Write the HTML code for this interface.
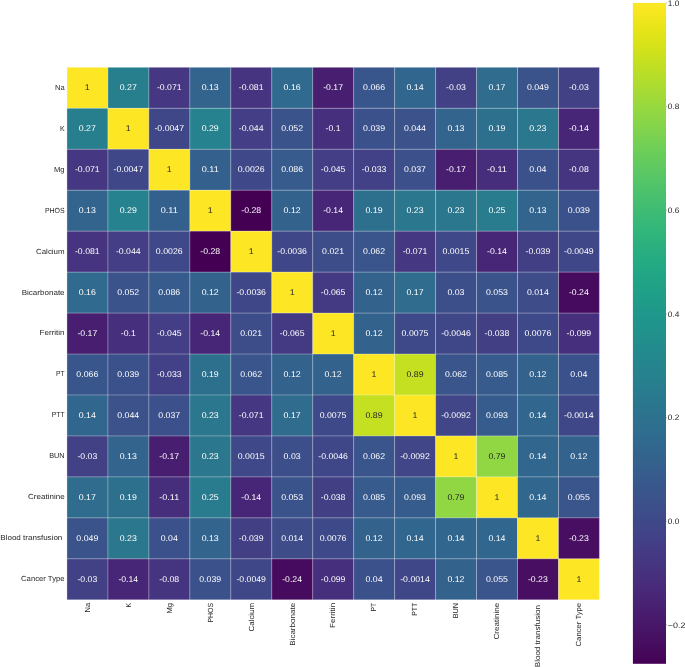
<!DOCTYPE html><html><head><meta charset="utf-8"><style>html,body{margin:0;padding:0;background:#fff;overflow:hidden;}svg{display:block;}text{font-family:"Liberation Sans",sans-serif;text-rendering:geometricPrecision;}</style></head><body>
<svg width="685" height="667" viewBox="0 0 685 667">
<defs><linearGradient id="cb" x1="0" y1="0" x2="0" y2="1"><stop offset="0.0000" stop-color="#fde725"/><stop offset="0.0156" stop-color="#f6e620"/><stop offset="0.0312" stop-color="#ece51b"/><stop offset="0.0469" stop-color="#e2e418"/><stop offset="0.0625" stop-color="#d8e219"/><stop offset="0.0781" stop-color="#cde11d"/><stop offset="0.0938" stop-color="#c2df23"/><stop offset="0.1094" stop-color="#b8de29"/><stop offset="0.1250" stop-color="#addc30"/><stop offset="0.1406" stop-color="#a2da37"/><stop offset="0.1562" stop-color="#98d83e"/><stop offset="0.1719" stop-color="#8ed645"/><stop offset="0.1875" stop-color="#84d44b"/><stop offset="0.2031" stop-color="#7ad151"/><stop offset="0.2188" stop-color="#70cf57"/><stop offset="0.2344" stop-color="#67cc5c"/><stop offset="0.2500" stop-color="#5ec962"/><stop offset="0.2656" stop-color="#56c667"/><stop offset="0.2812" stop-color="#4ec36b"/><stop offset="0.2969" stop-color="#46c06f"/><stop offset="0.3125" stop-color="#3fbc73"/><stop offset="0.3281" stop-color="#38b977"/><stop offset="0.3438" stop-color="#32b67a"/><stop offset="0.3594" stop-color="#2db27d"/><stop offset="0.3750" stop-color="#28ae80"/><stop offset="0.3906" stop-color="#25ab82"/><stop offset="0.4062" stop-color="#22a785"/><stop offset="0.4219" stop-color="#20a386"/><stop offset="0.4375" stop-color="#1fa088"/><stop offset="0.4531" stop-color="#1e9c89"/><stop offset="0.4688" stop-color="#1f988b"/><stop offset="0.4844" stop-color="#1f948c"/><stop offset="0.5000" stop-color="#21918c"/><stop offset="0.5156" stop-color="#228d8d"/><stop offset="0.5312" stop-color="#23898e"/><stop offset="0.5469" stop-color="#25858e"/><stop offset="0.5625" stop-color="#26828e"/><stop offset="0.5781" stop-color="#277e8e"/><stop offset="0.5938" stop-color="#297a8e"/><stop offset="0.6094" stop-color="#2a768e"/><stop offset="0.6250" stop-color="#2c728e"/><stop offset="0.6406" stop-color="#2e6f8e"/><stop offset="0.6562" stop-color="#2f6b8e"/><stop offset="0.6719" stop-color="#31678e"/><stop offset="0.6875" stop-color="#33638d"/><stop offset="0.7031" stop-color="#355f8d"/><stop offset="0.7188" stop-color="#375b8d"/><stop offset="0.7344" stop-color="#39568c"/><stop offset="0.7500" stop-color="#3b528b"/><stop offset="0.7656" stop-color="#3d4e8a"/><stop offset="0.7812" stop-color="#3e4989"/><stop offset="0.7969" stop-color="#404588"/><stop offset="0.8125" stop-color="#424086"/><stop offset="0.8281" stop-color="#443b84"/><stop offset="0.8438" stop-color="#453781"/><stop offset="0.8594" stop-color="#46327e"/><stop offset="0.8750" stop-color="#472d7b"/><stop offset="0.8906" stop-color="#482878"/><stop offset="0.9062" stop-color="#482374"/><stop offset="0.9219" stop-color="#481d6f"/><stop offset="0.9375" stop-color="#48186a"/><stop offset="0.9531" stop-color="#471365"/><stop offset="0.9688" stop-color="#470d60"/><stop offset="0.9844" stop-color="#46075a"/><stop offset="1.0000" stop-color="#440154"/></linearGradient>
<filter id="soft" x="-5%" y="-5%" width="110%" height="110%" color-interpolation-filters="sRGB"><feGaussianBlur stdDeviation="0.3"/></filter></defs>
<rect width="685" height="667" fill="#fff"/>
<rect x="66.95" y="67.30" width="40.96" height="40.96" fill="#fde725"/>
<rect x="107.91" y="67.30" width="40.96" height="40.96" fill="#277f8e"/>
<rect x="148.87" y="67.30" width="40.96" height="40.96" fill="#453781"/>
<rect x="189.83" y="67.30" width="40.96" height="40.96" fill="#32648e"/>
<rect x="230.79" y="67.30" width="40.96" height="40.96" fill="#463480"/>
<rect x="271.75" y="67.30" width="40.96" height="40.96" fill="#306a8e"/>
<rect x="312.71" y="67.30" width="40.96" height="40.96" fill="#481f70"/>
<rect x="353.67" y="67.30" width="40.96" height="40.96" fill="#39568c"/>
<rect x="394.63" y="67.30" width="40.96" height="40.96" fill="#31668e"/>
<rect x="435.59" y="67.30" width="40.96" height="40.96" fill="#424186"/>
<rect x="476.55" y="67.30" width="40.96" height="40.96" fill="#2f6c8e"/>
<rect x="517.51" y="67.30" width="40.96" height="40.96" fill="#3a538b"/>
<rect x="558.47" y="67.30" width="40.96" height="40.96" fill="#424186"/>
<rect x="66.95" y="108.26" width="40.96" height="40.96" fill="#277f8e"/>
<rect x="107.91" y="108.26" width="40.96" height="40.96" fill="#fde725"/>
<rect x="148.87" y="108.26" width="40.96" height="40.96" fill="#3f4788"/>
<rect x="189.83" y="108.26" width="40.96" height="40.96" fill="#26828e"/>
<rect x="230.79" y="108.26" width="40.96" height="40.96" fill="#433e85"/>
<rect x="271.75" y="108.26" width="40.96" height="40.96" fill="#3a538b"/>
<rect x="312.71" y="108.26" width="40.96" height="40.96" fill="#46307e"/>
<rect x="353.67" y="108.26" width="40.96" height="40.96" fill="#3b518b"/>
<rect x="394.63" y="108.26" width="40.96" height="40.96" fill="#3b528b"/>
<rect x="435.59" y="108.26" width="40.96" height="40.96" fill="#32648e"/>
<rect x="476.55" y="108.26" width="40.96" height="40.96" fill="#2d708e"/>
<rect x="517.51" y="108.26" width="40.96" height="40.96" fill="#2a778e"/>
<rect x="558.47" y="108.26" width="40.96" height="40.96" fill="#482677"/>
<rect x="66.95" y="149.22" width="40.96" height="40.96" fill="#453781"/>
<rect x="107.91" y="149.22" width="40.96" height="40.96" fill="#3f4788"/>
<rect x="148.87" y="149.22" width="40.96" height="40.96" fill="#fde725"/>
<rect x="189.83" y="149.22" width="40.96" height="40.96" fill="#34608d"/>
<rect x="230.79" y="149.22" width="40.96" height="40.96" fill="#3f4889"/>
<rect x="271.75" y="149.22" width="40.96" height="40.96" fill="#375b8d"/>
<rect x="312.71" y="149.22" width="40.96" height="40.96" fill="#433e85"/>
<rect x="353.67" y="149.22" width="40.96" height="40.96" fill="#424086"/>
<rect x="394.63" y="149.22" width="40.96" height="40.96" fill="#3c508b"/>
<rect x="435.59" y="149.22" width="40.96" height="40.96" fill="#481f70"/>
<rect x="476.55" y="149.22" width="40.96" height="40.96" fill="#472e7c"/>
<rect x="517.51" y="149.22" width="40.96" height="40.96" fill="#3b518b"/>
<rect x="558.47" y="149.22" width="40.96" height="40.96" fill="#453581"/>
<rect x="66.95" y="190.18" width="40.96" height="40.96" fill="#32648e"/>
<rect x="107.91" y="190.18" width="40.96" height="40.96" fill="#26828e"/>
<rect x="148.87" y="190.18" width="40.96" height="40.96" fill="#34608d"/>
<rect x="189.83" y="190.18" width="40.96" height="40.96" fill="#fde725"/>
<rect x="230.79" y="190.18" width="40.96" height="40.96" fill="#440154"/>
<rect x="271.75" y="190.18" width="40.96" height="40.96" fill="#33628d"/>
<rect x="312.71" y="190.18" width="40.96" height="40.96" fill="#482677"/>
<rect x="353.67" y="190.18" width="40.96" height="40.96" fill="#2d708e"/>
<rect x="394.63" y="190.18" width="40.96" height="40.96" fill="#2a778e"/>
<rect x="435.59" y="190.18" width="40.96" height="40.96" fill="#2a778e"/>
<rect x="476.55" y="190.18" width="40.96" height="40.96" fill="#297b8e"/>
<rect x="517.51" y="190.18" width="40.96" height="40.96" fill="#32648e"/>
<rect x="558.47" y="190.18" width="40.96" height="40.96" fill="#3b518b"/>
<rect x="66.95" y="231.14" width="40.96" height="40.96" fill="#463480"/>
<rect x="107.91" y="231.14" width="40.96" height="40.96" fill="#433e85"/>
<rect x="148.87" y="231.14" width="40.96" height="40.96" fill="#3f4889"/>
<rect x="189.83" y="231.14" width="40.96" height="40.96" fill="#440154"/>
<rect x="230.79" y="231.14" width="40.96" height="40.96" fill="#fde725"/>
<rect x="271.75" y="231.14" width="40.96" height="40.96" fill="#3f4788"/>
<rect x="312.71" y="231.14" width="40.96" height="40.96" fill="#3d4d8a"/>
<rect x="353.67" y="231.14" width="40.96" height="40.96" fill="#39558c"/>
<rect x="394.63" y="231.14" width="40.96" height="40.96" fill="#453781"/>
<rect x="435.59" y="231.14" width="40.96" height="40.96" fill="#3f4889"/>
<rect x="476.55" y="231.14" width="40.96" height="40.96" fill="#482677"/>
<rect x="517.51" y="231.14" width="40.96" height="40.96" fill="#423f85"/>
<rect x="558.47" y="231.14" width="40.96" height="40.96" fill="#3f4788"/>
<rect x="66.95" y="272.10" width="40.96" height="40.96" fill="#306a8e"/>
<rect x="107.91" y="272.10" width="40.96" height="40.96" fill="#3a538b"/>
<rect x="148.87" y="272.10" width="40.96" height="40.96" fill="#375b8d"/>
<rect x="189.83" y="272.10" width="40.96" height="40.96" fill="#33628d"/>
<rect x="230.79" y="272.10" width="40.96" height="40.96" fill="#3f4788"/>
<rect x="271.75" y="272.10" width="40.96" height="40.96" fill="#fde725"/>
<rect x="312.71" y="272.10" width="40.96" height="40.96" fill="#443983"/>
<rect x="353.67" y="272.10" width="40.96" height="40.96" fill="#33628d"/>
<rect x="394.63" y="272.10" width="40.96" height="40.96" fill="#2f6c8e"/>
<rect x="435.59" y="272.10" width="40.96" height="40.96" fill="#3c4f8a"/>
<rect x="476.55" y="272.10" width="40.96" height="40.96" fill="#3a538b"/>
<rect x="517.51" y="272.10" width="40.96" height="40.96" fill="#3e4c8a"/>
<rect x="558.47" y="272.10" width="40.96" height="40.96" fill="#460b5e"/>
<rect x="66.95" y="313.06" width="40.96" height="40.96" fill="#481f70"/>
<rect x="107.91" y="313.06" width="40.96" height="40.96" fill="#46307e"/>
<rect x="148.87" y="313.06" width="40.96" height="40.96" fill="#433e85"/>
<rect x="189.83" y="313.06" width="40.96" height="40.96" fill="#482677"/>
<rect x="230.79" y="313.06" width="40.96" height="40.96" fill="#3d4d8a"/>
<rect x="271.75" y="313.06" width="40.96" height="40.96" fill="#443983"/>
<rect x="312.71" y="313.06" width="40.96" height="40.96" fill="#fde725"/>
<rect x="353.67" y="313.06" width="40.96" height="40.96" fill="#33628d"/>
<rect x="394.63" y="313.06" width="40.96" height="40.96" fill="#3e4989"/>
<rect x="435.59" y="313.06" width="40.96" height="40.96" fill="#3f4788"/>
<rect x="476.55" y="313.06" width="40.96" height="40.96" fill="#423f85"/>
<rect x="517.51" y="313.06" width="40.96" height="40.96" fill="#3e4989"/>
<rect x="558.47" y="313.06" width="40.96" height="40.96" fill="#46307e"/>
<rect x="66.95" y="354.02" width="40.96" height="40.96" fill="#39568c"/>
<rect x="107.91" y="354.02" width="40.96" height="40.96" fill="#3b518b"/>
<rect x="148.87" y="354.02" width="40.96" height="40.96" fill="#424086"/>
<rect x="189.83" y="354.02" width="40.96" height="40.96" fill="#2d708e"/>
<rect x="230.79" y="354.02" width="40.96" height="40.96" fill="#39558c"/>
<rect x="271.75" y="354.02" width="40.96" height="40.96" fill="#33628d"/>
<rect x="312.71" y="354.02" width="40.96" height="40.96" fill="#33628d"/>
<rect x="353.67" y="354.02" width="40.96" height="40.96" fill="#fde725"/>
<rect x="394.63" y="354.02" width="40.96" height="40.96" fill="#c5e021"/>
<rect x="435.59" y="354.02" width="40.96" height="40.96" fill="#39558c"/>
<rect x="476.55" y="354.02" width="40.96" height="40.96" fill="#375b8d"/>
<rect x="517.51" y="354.02" width="40.96" height="40.96" fill="#33628d"/>
<rect x="558.47" y="354.02" width="40.96" height="40.96" fill="#3b518b"/>
<rect x="66.95" y="394.98" width="40.96" height="40.96" fill="#31668e"/>
<rect x="107.91" y="394.98" width="40.96" height="40.96" fill="#3b528b"/>
<rect x="148.87" y="394.98" width="40.96" height="40.96" fill="#3c508b"/>
<rect x="189.83" y="394.98" width="40.96" height="40.96" fill="#2a778e"/>
<rect x="230.79" y="394.98" width="40.96" height="40.96" fill="#453781"/>
<rect x="271.75" y="394.98" width="40.96" height="40.96" fill="#2f6c8e"/>
<rect x="312.71" y="394.98" width="40.96" height="40.96" fill="#3e4989"/>
<rect x="353.67" y="394.98" width="40.96" height="40.96" fill="#c5e021"/>
<rect x="394.63" y="394.98" width="40.96" height="40.96" fill="#fde725"/>
<rect x="435.59" y="394.98" width="40.96" height="40.96" fill="#404688"/>
<rect x="476.55" y="394.98" width="40.96" height="40.96" fill="#365c8d"/>
<rect x="517.51" y="394.98" width="40.96" height="40.96" fill="#31668e"/>
<rect x="558.47" y="394.98" width="40.96" height="40.96" fill="#3f4788"/>
<rect x="66.95" y="435.94" width="40.96" height="40.96" fill="#424186"/>
<rect x="107.91" y="435.94" width="40.96" height="40.96" fill="#32648e"/>
<rect x="148.87" y="435.94" width="40.96" height="40.96" fill="#481f70"/>
<rect x="189.83" y="435.94" width="40.96" height="40.96" fill="#2a778e"/>
<rect x="230.79" y="435.94" width="40.96" height="40.96" fill="#3f4889"/>
<rect x="271.75" y="435.94" width="40.96" height="40.96" fill="#3c4f8a"/>
<rect x="312.71" y="435.94" width="40.96" height="40.96" fill="#3f4788"/>
<rect x="353.67" y="435.94" width="40.96" height="40.96" fill="#39558c"/>
<rect x="394.63" y="435.94" width="40.96" height="40.96" fill="#404688"/>
<rect x="435.59" y="435.94" width="40.96" height="40.96" fill="#fde725"/>
<rect x="476.55" y="435.94" width="40.96" height="40.96" fill="#90d743"/>
<rect x="517.51" y="435.94" width="40.96" height="40.96" fill="#31668e"/>
<rect x="558.47" y="435.94" width="40.96" height="40.96" fill="#33628d"/>
<rect x="66.95" y="476.90" width="40.96" height="40.96" fill="#2f6c8e"/>
<rect x="107.91" y="476.90" width="40.96" height="40.96" fill="#2d708e"/>
<rect x="148.87" y="476.90" width="40.96" height="40.96" fill="#472e7c"/>
<rect x="189.83" y="476.90" width="40.96" height="40.96" fill="#297b8e"/>
<rect x="230.79" y="476.90" width="40.96" height="40.96" fill="#482677"/>
<rect x="271.75" y="476.90" width="40.96" height="40.96" fill="#3a538b"/>
<rect x="312.71" y="476.90" width="40.96" height="40.96" fill="#423f85"/>
<rect x="353.67" y="476.90" width="40.96" height="40.96" fill="#375b8d"/>
<rect x="394.63" y="476.90" width="40.96" height="40.96" fill="#365c8d"/>
<rect x="435.59" y="476.90" width="40.96" height="40.96" fill="#90d743"/>
<rect x="476.55" y="476.90" width="40.96" height="40.96" fill="#fde725"/>
<rect x="517.51" y="476.90" width="40.96" height="40.96" fill="#31668e"/>
<rect x="558.47" y="476.90" width="40.96" height="40.96" fill="#3a548c"/>
<rect x="66.95" y="517.86" width="40.96" height="40.96" fill="#3a538b"/>
<rect x="107.91" y="517.86" width="40.96" height="40.96" fill="#2a778e"/>
<rect x="148.87" y="517.86" width="40.96" height="40.96" fill="#3b518b"/>
<rect x="189.83" y="517.86" width="40.96" height="40.96" fill="#32648e"/>
<rect x="230.79" y="517.86" width="40.96" height="40.96" fill="#423f85"/>
<rect x="271.75" y="517.86" width="40.96" height="40.96" fill="#3e4c8a"/>
<rect x="312.71" y="517.86" width="40.96" height="40.96" fill="#3e4989"/>
<rect x="353.67" y="517.86" width="40.96" height="40.96" fill="#33628d"/>
<rect x="394.63" y="517.86" width="40.96" height="40.96" fill="#31668e"/>
<rect x="435.59" y="517.86" width="40.96" height="40.96" fill="#31668e"/>
<rect x="476.55" y="517.86" width="40.96" height="40.96" fill="#31668e"/>
<rect x="517.51" y="517.86" width="40.96" height="40.96" fill="#fde725"/>
<rect x="558.47" y="517.86" width="40.96" height="40.96" fill="#470e61"/>
<rect x="66.95" y="558.82" width="40.96" height="40.96" fill="#424186"/>
<rect x="107.91" y="558.82" width="40.96" height="40.96" fill="#482677"/>
<rect x="148.87" y="558.82" width="40.96" height="40.96" fill="#453581"/>
<rect x="189.83" y="558.82" width="40.96" height="40.96" fill="#3b518b"/>
<rect x="230.79" y="558.82" width="40.96" height="40.96" fill="#3f4788"/>
<rect x="271.75" y="558.82" width="40.96" height="40.96" fill="#460b5e"/>
<rect x="312.71" y="558.82" width="40.96" height="40.96" fill="#46307e"/>
<rect x="353.67" y="558.82" width="40.96" height="40.96" fill="#3b518b"/>
<rect x="394.63" y="558.82" width="40.96" height="40.96" fill="#3f4788"/>
<rect x="435.59" y="558.82" width="40.96" height="40.96" fill="#33628d"/>
<rect x="476.55" y="558.82" width="40.96" height="40.96" fill="#3a548c"/>
<rect x="517.51" y="558.82" width="40.96" height="40.96" fill="#470e61"/>
<rect x="558.47" y="558.82" width="40.96" height="40.96" fill="#fde725"/>
<g stroke="#fff" stroke-width="1.0" stroke-opacity="0.3" fill="none">
<line x1="66.95" y1="67.30" x2="66.95" y2="599.78"/>
<line x1="66.95" y1="67.30" x2="599.43" y2="67.30"/>
<line x1="107.91" y1="67.30" x2="107.91" y2="599.78"/>
<line x1="66.95" y1="108.26" x2="599.43" y2="108.26"/>
<line x1="148.87" y1="67.30" x2="148.87" y2="599.78"/>
<line x1="66.95" y1="149.22" x2="599.43" y2="149.22"/>
<line x1="189.83" y1="67.30" x2="189.83" y2="599.78"/>
<line x1="66.95" y1="190.18" x2="599.43" y2="190.18"/>
<line x1="230.79" y1="67.30" x2="230.79" y2="599.78"/>
<line x1="66.95" y1="231.14" x2="599.43" y2="231.14"/>
<line x1="271.75" y1="67.30" x2="271.75" y2="599.78"/>
<line x1="66.95" y1="272.10" x2="599.43" y2="272.10"/>
<line x1="312.71" y1="67.30" x2="312.71" y2="599.78"/>
<line x1="66.95" y1="313.06" x2="599.43" y2="313.06"/>
<line x1="353.67" y1="67.30" x2="353.67" y2="599.78"/>
<line x1="66.95" y1="354.02" x2="599.43" y2="354.02"/>
<line x1="394.63" y1="67.30" x2="394.63" y2="599.78"/>
<line x1="66.95" y1="394.98" x2="599.43" y2="394.98"/>
<line x1="435.59" y1="67.30" x2="435.59" y2="599.78"/>
<line x1="66.95" y1="435.94" x2="599.43" y2="435.94"/>
<line x1="476.55" y1="67.30" x2="476.55" y2="599.78"/>
<line x1="66.95" y1="476.90" x2="599.43" y2="476.90"/>
<line x1="517.51" y1="67.30" x2="517.51" y2="599.78"/>
<line x1="66.95" y1="517.86" x2="599.43" y2="517.86"/>
<line x1="558.47" y1="67.30" x2="558.47" y2="599.78"/>
<line x1="66.95" y1="558.82" x2="599.43" y2="558.82"/>
<line x1="599.43" y1="67.30" x2="599.43" y2="599.78"/>
<line x1="66.95" y1="599.78" x2="599.43" y2="599.78"/>
</g>
<rect x="632.9" y="2.9" width="33.10" height="660.90" fill="url(#cb)"/>
<g filter="url(#soft)">
<text x="87.33" y="90.08" font-size="8.4" fill="#262626" text-anchor="middle" textLength="4.88" lengthAdjust="spacingAndGlyphs">1</text>
<text x="128.29" y="90.08" font-size="8.4" fill="#ffffff" text-anchor="middle" textLength="17.07" lengthAdjust="spacingAndGlyphs">0.27</text>
<text x="169.25" y="90.08" font-size="8.4" fill="#ffffff" text-anchor="middle" textLength="24.71" lengthAdjust="spacingAndGlyphs">-0.071</text>
<text x="210.21" y="90.08" font-size="8.4" fill="#ffffff" text-anchor="middle" textLength="17.07" lengthAdjust="spacingAndGlyphs">0.13</text>
<text x="251.17" y="90.08" font-size="8.4" fill="#ffffff" text-anchor="middle" textLength="24.71" lengthAdjust="spacingAndGlyphs">-0.081</text>
<text x="292.13" y="90.08" font-size="8.4" fill="#ffffff" text-anchor="middle" textLength="17.07" lengthAdjust="spacingAndGlyphs">0.16</text>
<text x="333.09" y="90.08" font-size="8.4" fill="#ffffff" text-anchor="middle" textLength="19.83" lengthAdjust="spacingAndGlyphs">-0.17</text>
<text x="374.05" y="90.08" font-size="8.4" fill="#ffffff" text-anchor="middle" textLength="21.94" lengthAdjust="spacingAndGlyphs">0.066</text>
<text x="415.01" y="90.08" font-size="8.4" fill="#ffffff" text-anchor="middle" textLength="17.07" lengthAdjust="spacingAndGlyphs">0.14</text>
<text x="455.97" y="90.08" font-size="8.4" fill="#ffffff" text-anchor="middle" textLength="19.83" lengthAdjust="spacingAndGlyphs">-0.03</text>
<text x="496.93" y="90.08" font-size="8.4" fill="#ffffff" text-anchor="middle" textLength="17.07" lengthAdjust="spacingAndGlyphs">0.17</text>
<text x="537.89" y="90.08" font-size="8.4" fill="#ffffff" text-anchor="middle" textLength="21.94" lengthAdjust="spacingAndGlyphs">0.049</text>
<text x="578.85" y="90.08" font-size="8.4" fill="#ffffff" text-anchor="middle" textLength="19.83" lengthAdjust="spacingAndGlyphs">-0.03</text>
<text x="87.33" y="131.04" font-size="8.4" fill="#ffffff" text-anchor="middle" textLength="17.07" lengthAdjust="spacingAndGlyphs">0.27</text>
<text x="128.29" y="131.04" font-size="8.4" fill="#262626" text-anchor="middle" textLength="4.88" lengthAdjust="spacingAndGlyphs">1</text>
<text x="169.25" y="131.04" font-size="8.4" fill="#ffffff" text-anchor="middle" textLength="29.59" lengthAdjust="spacingAndGlyphs">-0.0047</text>
<text x="210.21" y="131.04" font-size="8.4" fill="#ffffff" text-anchor="middle" textLength="17.07" lengthAdjust="spacingAndGlyphs">0.29</text>
<text x="251.17" y="131.04" font-size="8.4" fill="#ffffff" text-anchor="middle" textLength="24.71" lengthAdjust="spacingAndGlyphs">-0.044</text>
<text x="292.13" y="131.04" font-size="8.4" fill="#ffffff" text-anchor="middle" textLength="21.94" lengthAdjust="spacingAndGlyphs">0.052</text>
<text x="333.09" y="131.04" font-size="8.4" fill="#ffffff" text-anchor="middle" textLength="14.96" lengthAdjust="spacingAndGlyphs">-0.1</text>
<text x="374.05" y="131.04" font-size="8.4" fill="#ffffff" text-anchor="middle" textLength="21.94" lengthAdjust="spacingAndGlyphs">0.039</text>
<text x="415.01" y="131.04" font-size="8.4" fill="#ffffff" text-anchor="middle" textLength="21.94" lengthAdjust="spacingAndGlyphs">0.044</text>
<text x="455.97" y="131.04" font-size="8.4" fill="#ffffff" text-anchor="middle" textLength="17.07" lengthAdjust="spacingAndGlyphs">0.13</text>
<text x="496.93" y="131.04" font-size="8.4" fill="#ffffff" text-anchor="middle" textLength="17.07" lengthAdjust="spacingAndGlyphs">0.19</text>
<text x="537.89" y="131.04" font-size="8.4" fill="#ffffff" text-anchor="middle" textLength="17.07" lengthAdjust="spacingAndGlyphs">0.23</text>
<text x="578.85" y="131.04" font-size="8.4" fill="#ffffff" text-anchor="middle" textLength="19.83" lengthAdjust="spacingAndGlyphs">-0.14</text>
<text x="87.33" y="172.00" font-size="8.4" fill="#ffffff" text-anchor="middle" textLength="24.71" lengthAdjust="spacingAndGlyphs">-0.071</text>
<text x="128.29" y="172.00" font-size="8.4" fill="#ffffff" text-anchor="middle" textLength="29.59" lengthAdjust="spacingAndGlyphs">-0.0047</text>
<text x="169.25" y="172.00" font-size="8.4" fill="#262626" text-anchor="middle" textLength="4.88" lengthAdjust="spacingAndGlyphs">1</text>
<text x="210.21" y="172.00" font-size="8.4" fill="#ffffff" text-anchor="middle" textLength="17.07" lengthAdjust="spacingAndGlyphs">0.11</text>
<text x="251.17" y="172.00" font-size="8.4" fill="#ffffff" text-anchor="middle" textLength="26.82" lengthAdjust="spacingAndGlyphs">0.0026</text>
<text x="292.13" y="172.00" font-size="8.4" fill="#ffffff" text-anchor="middle" textLength="21.94" lengthAdjust="spacingAndGlyphs">0.086</text>
<text x="333.09" y="172.00" font-size="8.4" fill="#ffffff" text-anchor="middle" textLength="24.71" lengthAdjust="spacingAndGlyphs">-0.045</text>
<text x="374.05" y="172.00" font-size="8.4" fill="#ffffff" text-anchor="middle" textLength="24.71" lengthAdjust="spacingAndGlyphs">-0.033</text>
<text x="415.01" y="172.00" font-size="8.4" fill="#ffffff" text-anchor="middle" textLength="21.94" lengthAdjust="spacingAndGlyphs">0.037</text>
<text x="455.97" y="172.00" font-size="8.4" fill="#ffffff" text-anchor="middle" textLength="19.83" lengthAdjust="spacingAndGlyphs">-0.17</text>
<text x="496.93" y="172.00" font-size="8.4" fill="#ffffff" text-anchor="middle" textLength="19.83" lengthAdjust="spacingAndGlyphs">-0.11</text>
<text x="537.89" y="172.00" font-size="8.4" fill="#ffffff" text-anchor="middle" textLength="17.07" lengthAdjust="spacingAndGlyphs">0.04</text>
<text x="578.85" y="172.00" font-size="8.4" fill="#ffffff" text-anchor="middle" textLength="19.83" lengthAdjust="spacingAndGlyphs">-0.08</text>
<text x="87.33" y="212.96" font-size="8.4" fill="#ffffff" text-anchor="middle" textLength="17.07" lengthAdjust="spacingAndGlyphs">0.13</text>
<text x="128.29" y="212.96" font-size="8.4" fill="#ffffff" text-anchor="middle" textLength="17.07" lengthAdjust="spacingAndGlyphs">0.29</text>
<text x="169.25" y="212.96" font-size="8.4" fill="#ffffff" text-anchor="middle" textLength="17.07" lengthAdjust="spacingAndGlyphs">0.11</text>
<text x="210.21" y="212.96" font-size="8.4" fill="#262626" text-anchor="middle" textLength="4.88" lengthAdjust="spacingAndGlyphs">1</text>
<text x="251.17" y="212.96" font-size="8.4" fill="#ffffff" text-anchor="middle" textLength="19.83" lengthAdjust="spacingAndGlyphs">-0.28</text>
<text x="292.13" y="212.96" font-size="8.4" fill="#ffffff" text-anchor="middle" textLength="17.07" lengthAdjust="spacingAndGlyphs">0.12</text>
<text x="333.09" y="212.96" font-size="8.4" fill="#ffffff" text-anchor="middle" textLength="19.83" lengthAdjust="spacingAndGlyphs">-0.14</text>
<text x="374.05" y="212.96" font-size="8.4" fill="#ffffff" text-anchor="middle" textLength="17.07" lengthAdjust="spacingAndGlyphs">0.19</text>
<text x="415.01" y="212.96" font-size="8.4" fill="#ffffff" text-anchor="middle" textLength="17.07" lengthAdjust="spacingAndGlyphs">0.23</text>
<text x="455.97" y="212.96" font-size="8.4" fill="#ffffff" text-anchor="middle" textLength="17.07" lengthAdjust="spacingAndGlyphs">0.23</text>
<text x="496.93" y="212.96" font-size="8.4" fill="#ffffff" text-anchor="middle" textLength="17.07" lengthAdjust="spacingAndGlyphs">0.25</text>
<text x="537.89" y="212.96" font-size="8.4" fill="#ffffff" text-anchor="middle" textLength="17.07" lengthAdjust="spacingAndGlyphs">0.13</text>
<text x="578.85" y="212.96" font-size="8.4" fill="#ffffff" text-anchor="middle" textLength="21.94" lengthAdjust="spacingAndGlyphs">0.039</text>
<text x="87.33" y="253.92" font-size="8.4" fill="#ffffff" text-anchor="middle" textLength="24.71" lengthAdjust="spacingAndGlyphs">-0.081</text>
<text x="128.29" y="253.92" font-size="8.4" fill="#ffffff" text-anchor="middle" textLength="24.71" lengthAdjust="spacingAndGlyphs">-0.044</text>
<text x="169.25" y="253.92" font-size="8.4" fill="#ffffff" text-anchor="middle" textLength="26.82" lengthAdjust="spacingAndGlyphs">0.0026</text>
<text x="210.21" y="253.92" font-size="8.4" fill="#ffffff" text-anchor="middle" textLength="19.83" lengthAdjust="spacingAndGlyphs">-0.28</text>
<text x="251.17" y="253.92" font-size="8.4" fill="#262626" text-anchor="middle" textLength="4.88" lengthAdjust="spacingAndGlyphs">1</text>
<text x="292.13" y="253.92" font-size="8.4" fill="#ffffff" text-anchor="middle" textLength="29.59" lengthAdjust="spacingAndGlyphs">-0.0036</text>
<text x="333.09" y="253.92" font-size="8.4" fill="#ffffff" text-anchor="middle" textLength="21.94" lengthAdjust="spacingAndGlyphs">0.021</text>
<text x="374.05" y="253.92" font-size="8.4" fill="#ffffff" text-anchor="middle" textLength="21.94" lengthAdjust="spacingAndGlyphs">0.062</text>
<text x="415.01" y="253.92" font-size="8.4" fill="#ffffff" text-anchor="middle" textLength="24.71" lengthAdjust="spacingAndGlyphs">-0.071</text>
<text x="455.97" y="253.92" font-size="8.4" fill="#ffffff" text-anchor="middle" textLength="26.82" lengthAdjust="spacingAndGlyphs">0.0015</text>
<text x="496.93" y="253.92" font-size="8.4" fill="#ffffff" text-anchor="middle" textLength="19.83" lengthAdjust="spacingAndGlyphs">-0.14</text>
<text x="537.89" y="253.92" font-size="8.4" fill="#ffffff" text-anchor="middle" textLength="24.71" lengthAdjust="spacingAndGlyphs">-0.039</text>
<text x="578.85" y="253.92" font-size="8.4" fill="#ffffff" text-anchor="middle" textLength="29.59" lengthAdjust="spacingAndGlyphs">-0.0049</text>
<text x="87.33" y="294.88" font-size="8.4" fill="#ffffff" text-anchor="middle" textLength="17.07" lengthAdjust="spacingAndGlyphs">0.16</text>
<text x="128.29" y="294.88" font-size="8.4" fill="#ffffff" text-anchor="middle" textLength="21.94" lengthAdjust="spacingAndGlyphs">0.052</text>
<text x="169.25" y="294.88" font-size="8.4" fill="#ffffff" text-anchor="middle" textLength="21.94" lengthAdjust="spacingAndGlyphs">0.086</text>
<text x="210.21" y="294.88" font-size="8.4" fill="#ffffff" text-anchor="middle" textLength="17.07" lengthAdjust="spacingAndGlyphs">0.12</text>
<text x="251.17" y="294.88" font-size="8.4" fill="#ffffff" text-anchor="middle" textLength="29.59" lengthAdjust="spacingAndGlyphs">-0.0036</text>
<text x="292.13" y="294.88" font-size="8.4" fill="#262626" text-anchor="middle" textLength="4.88" lengthAdjust="spacingAndGlyphs">1</text>
<text x="333.09" y="294.88" font-size="8.4" fill="#ffffff" text-anchor="middle" textLength="24.71" lengthAdjust="spacingAndGlyphs">-0.065</text>
<text x="374.05" y="294.88" font-size="8.4" fill="#ffffff" text-anchor="middle" textLength="17.07" lengthAdjust="spacingAndGlyphs">0.12</text>
<text x="415.01" y="294.88" font-size="8.4" fill="#ffffff" text-anchor="middle" textLength="17.07" lengthAdjust="spacingAndGlyphs">0.17</text>
<text x="455.97" y="294.88" font-size="8.4" fill="#ffffff" text-anchor="middle" textLength="17.07" lengthAdjust="spacingAndGlyphs">0.03</text>
<text x="496.93" y="294.88" font-size="8.4" fill="#ffffff" text-anchor="middle" textLength="21.94" lengthAdjust="spacingAndGlyphs">0.053</text>
<text x="537.89" y="294.88" font-size="8.4" fill="#ffffff" text-anchor="middle" textLength="21.94" lengthAdjust="spacingAndGlyphs">0.014</text>
<text x="578.85" y="294.88" font-size="8.4" fill="#ffffff" text-anchor="middle" textLength="19.83" lengthAdjust="spacingAndGlyphs">-0.24</text>
<text x="87.33" y="335.84" font-size="8.4" fill="#ffffff" text-anchor="middle" textLength="19.83" lengthAdjust="spacingAndGlyphs">-0.17</text>
<text x="128.29" y="335.84" font-size="8.4" fill="#ffffff" text-anchor="middle" textLength="14.96" lengthAdjust="spacingAndGlyphs">-0.1</text>
<text x="169.25" y="335.84" font-size="8.4" fill="#ffffff" text-anchor="middle" textLength="24.71" lengthAdjust="spacingAndGlyphs">-0.045</text>
<text x="210.21" y="335.84" font-size="8.4" fill="#ffffff" text-anchor="middle" textLength="19.83" lengthAdjust="spacingAndGlyphs">-0.14</text>
<text x="251.17" y="335.84" font-size="8.4" fill="#ffffff" text-anchor="middle" textLength="21.94" lengthAdjust="spacingAndGlyphs">0.021</text>
<text x="292.13" y="335.84" font-size="8.4" fill="#ffffff" text-anchor="middle" textLength="24.71" lengthAdjust="spacingAndGlyphs">-0.065</text>
<text x="333.09" y="335.84" font-size="8.4" fill="#262626" text-anchor="middle" textLength="4.88" lengthAdjust="spacingAndGlyphs">1</text>
<text x="374.05" y="335.84" font-size="8.4" fill="#ffffff" text-anchor="middle" textLength="17.07" lengthAdjust="spacingAndGlyphs">0.12</text>
<text x="415.01" y="335.84" font-size="8.4" fill="#ffffff" text-anchor="middle" textLength="26.82" lengthAdjust="spacingAndGlyphs">0.0075</text>
<text x="455.97" y="335.84" font-size="8.4" fill="#ffffff" text-anchor="middle" textLength="29.59" lengthAdjust="spacingAndGlyphs">-0.0046</text>
<text x="496.93" y="335.84" font-size="8.4" fill="#ffffff" text-anchor="middle" textLength="24.71" lengthAdjust="spacingAndGlyphs">-0.038</text>
<text x="537.89" y="335.84" font-size="8.4" fill="#ffffff" text-anchor="middle" textLength="26.82" lengthAdjust="spacingAndGlyphs">0.0076</text>
<text x="578.85" y="335.84" font-size="8.4" fill="#ffffff" text-anchor="middle" textLength="24.71" lengthAdjust="spacingAndGlyphs">-0.099</text>
<text x="87.33" y="376.80" font-size="8.4" fill="#ffffff" text-anchor="middle" textLength="21.94" lengthAdjust="spacingAndGlyphs">0.066</text>
<text x="128.29" y="376.80" font-size="8.4" fill="#ffffff" text-anchor="middle" textLength="21.94" lengthAdjust="spacingAndGlyphs">0.039</text>
<text x="169.25" y="376.80" font-size="8.4" fill="#ffffff" text-anchor="middle" textLength="24.71" lengthAdjust="spacingAndGlyphs">-0.033</text>
<text x="210.21" y="376.80" font-size="8.4" fill="#ffffff" text-anchor="middle" textLength="17.07" lengthAdjust="spacingAndGlyphs">0.19</text>
<text x="251.17" y="376.80" font-size="8.4" fill="#ffffff" text-anchor="middle" textLength="21.94" lengthAdjust="spacingAndGlyphs">0.062</text>
<text x="292.13" y="376.80" font-size="8.4" fill="#ffffff" text-anchor="middle" textLength="17.07" lengthAdjust="spacingAndGlyphs">0.12</text>
<text x="333.09" y="376.80" font-size="8.4" fill="#ffffff" text-anchor="middle" textLength="17.07" lengthAdjust="spacingAndGlyphs">0.12</text>
<text x="374.05" y="376.80" font-size="8.4" fill="#262626" text-anchor="middle" textLength="4.88" lengthAdjust="spacingAndGlyphs">1</text>
<text x="415.01" y="376.80" font-size="8.4" fill="#262626" text-anchor="middle" textLength="17.07" lengthAdjust="spacingAndGlyphs">0.89</text>
<text x="455.97" y="376.80" font-size="8.4" fill="#ffffff" text-anchor="middle" textLength="21.94" lengthAdjust="spacingAndGlyphs">0.062</text>
<text x="496.93" y="376.80" font-size="8.4" fill="#ffffff" text-anchor="middle" textLength="21.94" lengthAdjust="spacingAndGlyphs">0.085</text>
<text x="537.89" y="376.80" font-size="8.4" fill="#ffffff" text-anchor="middle" textLength="17.07" lengthAdjust="spacingAndGlyphs">0.12</text>
<text x="578.85" y="376.80" font-size="8.4" fill="#ffffff" text-anchor="middle" textLength="17.07" lengthAdjust="spacingAndGlyphs">0.04</text>
<text x="87.33" y="417.76" font-size="8.4" fill="#ffffff" text-anchor="middle" textLength="17.07" lengthAdjust="spacingAndGlyphs">0.14</text>
<text x="128.29" y="417.76" font-size="8.4" fill="#ffffff" text-anchor="middle" textLength="21.94" lengthAdjust="spacingAndGlyphs">0.044</text>
<text x="169.25" y="417.76" font-size="8.4" fill="#ffffff" text-anchor="middle" textLength="21.94" lengthAdjust="spacingAndGlyphs">0.037</text>
<text x="210.21" y="417.76" font-size="8.4" fill="#ffffff" text-anchor="middle" textLength="17.07" lengthAdjust="spacingAndGlyphs">0.23</text>
<text x="251.17" y="417.76" font-size="8.4" fill="#ffffff" text-anchor="middle" textLength="24.71" lengthAdjust="spacingAndGlyphs">-0.071</text>
<text x="292.13" y="417.76" font-size="8.4" fill="#ffffff" text-anchor="middle" textLength="17.07" lengthAdjust="spacingAndGlyphs">0.17</text>
<text x="333.09" y="417.76" font-size="8.4" fill="#ffffff" text-anchor="middle" textLength="26.82" lengthAdjust="spacingAndGlyphs">0.0075</text>
<text x="374.05" y="417.76" font-size="8.4" fill="#262626" text-anchor="middle" textLength="17.07" lengthAdjust="spacingAndGlyphs">0.89</text>
<text x="415.01" y="417.76" font-size="8.4" fill="#262626" text-anchor="middle" textLength="4.88" lengthAdjust="spacingAndGlyphs">1</text>
<text x="455.97" y="417.76" font-size="8.4" fill="#ffffff" text-anchor="middle" textLength="29.59" lengthAdjust="spacingAndGlyphs">-0.0092</text>
<text x="496.93" y="417.76" font-size="8.4" fill="#ffffff" text-anchor="middle" textLength="21.94" lengthAdjust="spacingAndGlyphs">0.093</text>
<text x="537.89" y="417.76" font-size="8.4" fill="#ffffff" text-anchor="middle" textLength="17.07" lengthAdjust="spacingAndGlyphs">0.14</text>
<text x="578.85" y="417.76" font-size="8.4" fill="#ffffff" text-anchor="middle" textLength="29.59" lengthAdjust="spacingAndGlyphs">-0.0014</text>
<text x="87.33" y="458.72" font-size="8.4" fill="#ffffff" text-anchor="middle" textLength="19.83" lengthAdjust="spacingAndGlyphs">-0.03</text>
<text x="128.29" y="458.72" font-size="8.4" fill="#ffffff" text-anchor="middle" textLength="17.07" lengthAdjust="spacingAndGlyphs">0.13</text>
<text x="169.25" y="458.72" font-size="8.4" fill="#ffffff" text-anchor="middle" textLength="19.83" lengthAdjust="spacingAndGlyphs">-0.17</text>
<text x="210.21" y="458.72" font-size="8.4" fill="#ffffff" text-anchor="middle" textLength="17.07" lengthAdjust="spacingAndGlyphs">0.23</text>
<text x="251.17" y="458.72" font-size="8.4" fill="#ffffff" text-anchor="middle" textLength="26.82" lengthAdjust="spacingAndGlyphs">0.0015</text>
<text x="292.13" y="458.72" font-size="8.4" fill="#ffffff" text-anchor="middle" textLength="17.07" lengthAdjust="spacingAndGlyphs">0.03</text>
<text x="333.09" y="458.72" font-size="8.4" fill="#ffffff" text-anchor="middle" textLength="29.59" lengthAdjust="spacingAndGlyphs">-0.0046</text>
<text x="374.05" y="458.72" font-size="8.4" fill="#ffffff" text-anchor="middle" textLength="21.94" lengthAdjust="spacingAndGlyphs">0.062</text>
<text x="415.01" y="458.72" font-size="8.4" fill="#ffffff" text-anchor="middle" textLength="29.59" lengthAdjust="spacingAndGlyphs">-0.0092</text>
<text x="455.97" y="458.72" font-size="8.4" fill="#262626" text-anchor="middle" textLength="4.88" lengthAdjust="spacingAndGlyphs">1</text>
<text x="496.93" y="458.72" font-size="8.4" fill="#262626" text-anchor="middle" textLength="17.07" lengthAdjust="spacingAndGlyphs">0.79</text>
<text x="537.89" y="458.72" font-size="8.4" fill="#ffffff" text-anchor="middle" textLength="17.07" lengthAdjust="spacingAndGlyphs">0.14</text>
<text x="578.85" y="458.72" font-size="8.4" fill="#ffffff" text-anchor="middle" textLength="17.07" lengthAdjust="spacingAndGlyphs">0.12</text>
<text x="87.33" y="499.68" font-size="8.4" fill="#ffffff" text-anchor="middle" textLength="17.07" lengthAdjust="spacingAndGlyphs">0.17</text>
<text x="128.29" y="499.68" font-size="8.4" fill="#ffffff" text-anchor="middle" textLength="17.07" lengthAdjust="spacingAndGlyphs">0.19</text>
<text x="169.25" y="499.68" font-size="8.4" fill="#ffffff" text-anchor="middle" textLength="19.83" lengthAdjust="spacingAndGlyphs">-0.11</text>
<text x="210.21" y="499.68" font-size="8.4" fill="#ffffff" text-anchor="middle" textLength="17.07" lengthAdjust="spacingAndGlyphs">0.25</text>
<text x="251.17" y="499.68" font-size="8.4" fill="#ffffff" text-anchor="middle" textLength="19.83" lengthAdjust="spacingAndGlyphs">-0.14</text>
<text x="292.13" y="499.68" font-size="8.4" fill="#ffffff" text-anchor="middle" textLength="21.94" lengthAdjust="spacingAndGlyphs">0.053</text>
<text x="333.09" y="499.68" font-size="8.4" fill="#ffffff" text-anchor="middle" textLength="24.71" lengthAdjust="spacingAndGlyphs">-0.038</text>
<text x="374.05" y="499.68" font-size="8.4" fill="#ffffff" text-anchor="middle" textLength="21.94" lengthAdjust="spacingAndGlyphs">0.085</text>
<text x="415.01" y="499.68" font-size="8.4" fill="#ffffff" text-anchor="middle" textLength="21.94" lengthAdjust="spacingAndGlyphs">0.093</text>
<text x="455.97" y="499.68" font-size="8.4" fill="#262626" text-anchor="middle" textLength="17.07" lengthAdjust="spacingAndGlyphs">0.79</text>
<text x="496.93" y="499.68" font-size="8.4" fill="#262626" text-anchor="middle" textLength="4.88" lengthAdjust="spacingAndGlyphs">1</text>
<text x="537.89" y="499.68" font-size="8.4" fill="#ffffff" text-anchor="middle" textLength="17.07" lengthAdjust="spacingAndGlyphs">0.14</text>
<text x="578.85" y="499.68" font-size="8.4" fill="#ffffff" text-anchor="middle" textLength="21.94" lengthAdjust="spacingAndGlyphs">0.055</text>
<text x="87.33" y="540.64" font-size="8.4" fill="#ffffff" text-anchor="middle" textLength="21.94" lengthAdjust="spacingAndGlyphs">0.049</text>
<text x="128.29" y="540.64" font-size="8.4" fill="#ffffff" text-anchor="middle" textLength="17.07" lengthAdjust="spacingAndGlyphs">0.23</text>
<text x="169.25" y="540.64" font-size="8.4" fill="#ffffff" text-anchor="middle" textLength="17.07" lengthAdjust="spacingAndGlyphs">0.04</text>
<text x="210.21" y="540.64" font-size="8.4" fill="#ffffff" text-anchor="middle" textLength="17.07" lengthAdjust="spacingAndGlyphs">0.13</text>
<text x="251.17" y="540.64" font-size="8.4" fill="#ffffff" text-anchor="middle" textLength="24.71" lengthAdjust="spacingAndGlyphs">-0.039</text>
<text x="292.13" y="540.64" font-size="8.4" fill="#ffffff" text-anchor="middle" textLength="21.94" lengthAdjust="spacingAndGlyphs">0.014</text>
<text x="333.09" y="540.64" font-size="8.4" fill="#ffffff" text-anchor="middle" textLength="26.82" lengthAdjust="spacingAndGlyphs">0.0076</text>
<text x="374.05" y="540.64" font-size="8.4" fill="#ffffff" text-anchor="middle" textLength="17.07" lengthAdjust="spacingAndGlyphs">0.12</text>
<text x="415.01" y="540.64" font-size="8.4" fill="#ffffff" text-anchor="middle" textLength="17.07" lengthAdjust="spacingAndGlyphs">0.14</text>
<text x="455.97" y="540.64" font-size="8.4" fill="#ffffff" text-anchor="middle" textLength="17.07" lengthAdjust="spacingAndGlyphs">0.14</text>
<text x="496.93" y="540.64" font-size="8.4" fill="#ffffff" text-anchor="middle" textLength="17.07" lengthAdjust="spacingAndGlyphs">0.14</text>
<text x="537.89" y="540.64" font-size="8.4" fill="#262626" text-anchor="middle" textLength="4.88" lengthAdjust="spacingAndGlyphs">1</text>
<text x="578.85" y="540.64" font-size="8.4" fill="#ffffff" text-anchor="middle" textLength="19.83" lengthAdjust="spacingAndGlyphs">-0.23</text>
<text x="87.33" y="581.60" font-size="8.4" fill="#ffffff" text-anchor="middle" textLength="19.83" lengthAdjust="spacingAndGlyphs">-0.03</text>
<text x="128.29" y="581.60" font-size="8.4" fill="#ffffff" text-anchor="middle" textLength="19.83" lengthAdjust="spacingAndGlyphs">-0.14</text>
<text x="169.25" y="581.60" font-size="8.4" fill="#ffffff" text-anchor="middle" textLength="19.83" lengthAdjust="spacingAndGlyphs">-0.08</text>
<text x="210.21" y="581.60" font-size="8.4" fill="#ffffff" text-anchor="middle" textLength="21.94" lengthAdjust="spacingAndGlyphs">0.039</text>
<text x="251.17" y="581.60" font-size="8.4" fill="#ffffff" text-anchor="middle" textLength="29.59" lengthAdjust="spacingAndGlyphs">-0.0049</text>
<text x="292.13" y="581.60" font-size="8.4" fill="#ffffff" text-anchor="middle" textLength="19.83" lengthAdjust="spacingAndGlyphs">-0.24</text>
<text x="333.09" y="581.60" font-size="8.4" fill="#ffffff" text-anchor="middle" textLength="24.71" lengthAdjust="spacingAndGlyphs">-0.099</text>
<text x="374.05" y="581.60" font-size="8.4" fill="#ffffff" text-anchor="middle" textLength="17.07" lengthAdjust="spacingAndGlyphs">0.04</text>
<text x="415.01" y="581.60" font-size="8.4" fill="#ffffff" text-anchor="middle" textLength="29.59" lengthAdjust="spacingAndGlyphs">-0.0014</text>
<text x="455.97" y="581.60" font-size="8.4" fill="#ffffff" text-anchor="middle" textLength="17.07" lengthAdjust="spacingAndGlyphs">0.12</text>
<text x="496.93" y="581.60" font-size="8.4" fill="#ffffff" text-anchor="middle" textLength="21.94" lengthAdjust="spacingAndGlyphs">0.055</text>
<text x="537.89" y="581.60" font-size="8.4" fill="#ffffff" text-anchor="middle" textLength="19.83" lengthAdjust="spacingAndGlyphs">-0.23</text>
<text x="578.85" y="581.60" font-size="8.4" fill="#262626" text-anchor="middle" textLength="4.88" lengthAdjust="spacingAndGlyphs">1</text>
<text x="64.60" y="89.73" font-size="7.4" fill="#262626" text-anchor="end" textLength="9.66" lengthAdjust="spacingAndGlyphs" xml:space="preserve">Na</text>
<text x="64.60" y="130.69" font-size="7.4" fill="#262626" text-anchor="end" textLength="4.66" lengthAdjust="spacingAndGlyphs" xml:space="preserve">K</text>
<text x="64.60" y="171.65" font-size="7.4" fill="#262626" text-anchor="end" textLength="10.63" lengthAdjust="spacingAndGlyphs" xml:space="preserve">Mg</text>
<text x="64.60" y="212.61" font-size="7.4" fill="#262626" text-anchor="end" textLength="19.72" lengthAdjust="spacingAndGlyphs" xml:space="preserve">PHOS</text>
<text x="64.60" y="253.57" font-size="7.4" fill="#262626" text-anchor="end" textLength="28.57" lengthAdjust="spacingAndGlyphs" xml:space="preserve">Calcium</text>
<text x="64.60" y="294.53" font-size="7.4" fill="#262626" text-anchor="end" textLength="42.87" lengthAdjust="spacingAndGlyphs" xml:space="preserve">Bicarbonate</text>
<text x="64.60" y="335.49" font-size="7.4" fill="#262626" text-anchor="end" textLength="25.01" lengthAdjust="spacingAndGlyphs" xml:space="preserve">Ferritin</text>
<text x="64.60" y="376.45" font-size="7.4" fill="#262626" text-anchor="end" textLength="8.62" lengthAdjust="spacingAndGlyphs" xml:space="preserve">PT</text>
<text x="64.60" y="417.41" font-size="7.4" fill="#262626" text-anchor="end" textLength="12.83" lengthAdjust="spacingAndGlyphs" xml:space="preserve">PTT</text>
<text x="64.60" y="458.37" font-size="7.4" fill="#262626" text-anchor="end" textLength="15.38" lengthAdjust="spacingAndGlyphs" xml:space="preserve">BUN</text>
<text x="64.60" y="499.33" font-size="7.4" fill="#262626" text-anchor="end" textLength="36.54" lengthAdjust="spacingAndGlyphs" xml:space="preserve">Creatinine</text>
<text x="64.60" y="540.29" font-size="7.4" fill="#262626" text-anchor="end" textLength="64.32" lengthAdjust="spacingAndGlyphs" xml:space="preserve">Blood transfusion </text>
<text x="64.60" y="581.25" font-size="7.4" fill="#262626" text-anchor="end" textLength="43.56" lengthAdjust="spacingAndGlyphs" xml:space="preserve">Cancer Type</text>
<text transform="translate(89.73,602.90) rotate(-90)" x="0" y="0" font-size="7.4" fill="#262626" text-anchor="end" textLength="9.66" lengthAdjust="spacingAndGlyphs" xml:space="preserve">Na</text>
<text transform="translate(130.69,602.90) rotate(-90)" x="0" y="0" font-size="7.4" fill="#262626" text-anchor="end" textLength="4.66" lengthAdjust="spacingAndGlyphs" xml:space="preserve">K</text>
<text transform="translate(171.65,602.90) rotate(-90)" x="0" y="0" font-size="7.4" fill="#262626" text-anchor="end" textLength="10.63" lengthAdjust="spacingAndGlyphs" xml:space="preserve">Mg</text>
<text transform="translate(212.61,602.90) rotate(-90)" x="0" y="0" font-size="7.4" fill="#262626" text-anchor="end" textLength="19.72" lengthAdjust="spacingAndGlyphs" xml:space="preserve">PHOS</text>
<text transform="translate(253.57,602.90) rotate(-90)" x="0" y="0" font-size="7.4" fill="#262626" text-anchor="end" textLength="28.57" lengthAdjust="spacingAndGlyphs" xml:space="preserve">Calcium</text>
<text transform="translate(294.53,602.90) rotate(-90)" x="0" y="0" font-size="7.4" fill="#262626" text-anchor="end" textLength="42.87" lengthAdjust="spacingAndGlyphs" xml:space="preserve">Bicarbonate</text>
<text transform="translate(335.49,602.90) rotate(-90)" x="0" y="0" font-size="7.4" fill="#262626" text-anchor="end" textLength="25.01" lengthAdjust="spacingAndGlyphs" xml:space="preserve">Ferritin</text>
<text transform="translate(376.45,602.90) rotate(-90)" x="0" y="0" font-size="7.4" fill="#262626" text-anchor="end" textLength="8.62" lengthAdjust="spacingAndGlyphs" xml:space="preserve">PT</text>
<text transform="translate(417.41,602.90) rotate(-90)" x="0" y="0" font-size="7.4" fill="#262626" text-anchor="end" textLength="12.83" lengthAdjust="spacingAndGlyphs" xml:space="preserve">PTT</text>
<text transform="translate(458.37,602.90) rotate(-90)" x="0" y="0" font-size="7.4" fill="#262626" text-anchor="end" textLength="15.38" lengthAdjust="spacingAndGlyphs" xml:space="preserve">BUN</text>
<text transform="translate(499.33,602.90) rotate(-90)" x="0" y="0" font-size="7.4" fill="#262626" text-anchor="end" textLength="36.54" lengthAdjust="spacingAndGlyphs" xml:space="preserve">Creatinine</text>
<text transform="translate(540.29,602.90) rotate(-90)" x="0" y="0" font-size="7.4" fill="#262626" text-anchor="end" textLength="64.32" lengthAdjust="spacingAndGlyphs" xml:space="preserve">Blood transfusion </text>
<text transform="translate(581.25,602.90) rotate(-90)" x="0" y="0" font-size="7.4" fill="#262626" text-anchor="end" textLength="43.56" lengthAdjust="spacingAndGlyphs" xml:space="preserve">Cancer Type</text>
<text x="667.80" y="627.52" font-size="7.9" fill="#262626" textLength="17.67" lengthAdjust="spacingAndGlyphs">−0.2</text>
<text x="667.80" y="523.85" font-size="7.9" fill="#262626" textLength="11.57" lengthAdjust="spacingAndGlyphs">0.0</text>
<text x="667.80" y="420.18" font-size="7.9" fill="#262626" textLength="11.57" lengthAdjust="spacingAndGlyphs">0.2</text>
<text x="667.80" y="316.51" font-size="7.9" fill="#262626" textLength="11.57" lengthAdjust="spacingAndGlyphs">0.4</text>
<text x="667.80" y="212.84" font-size="7.9" fill="#262626" textLength="11.57" lengthAdjust="spacingAndGlyphs">0.6</text>
<text x="667.80" y="109.17" font-size="7.9" fill="#262626" textLength="11.57" lengthAdjust="spacingAndGlyphs">0.8</text>
<text x="667.80" y="5.50" font-size="7.9" fill="#262626" textLength="11.57" lengthAdjust="spacingAndGlyphs">1.0</text>
</g>
<line x1="666.00" y1="624.92" x2="667.10" y2="624.92" stroke="#9a9a9a" stroke-width="0.7"/>
<line x1="666.00" y1="521.25" x2="667.10" y2="521.25" stroke="#9a9a9a" stroke-width="0.7"/>
<line x1="666.00" y1="417.58" x2="667.10" y2="417.58" stroke="#9a9a9a" stroke-width="0.7"/>
<line x1="666.00" y1="313.91" x2="667.10" y2="313.91" stroke="#9a9a9a" stroke-width="0.7"/>
<line x1="666.00" y1="210.24" x2="667.10" y2="210.24" stroke="#9a9a9a" stroke-width="0.7"/>
<line x1="666.00" y1="106.57" x2="667.10" y2="106.57" stroke="#9a9a9a" stroke-width="0.7"/>
<line x1="666.00" y1="2.90" x2="667.10" y2="2.90" stroke="#9a9a9a" stroke-width="0.7"/>
</svg></body></html>
